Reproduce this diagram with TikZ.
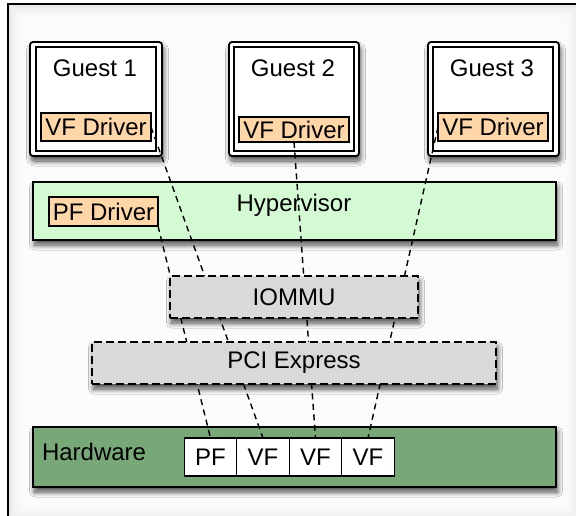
\documentclass[tikz,border=0pt]{standalone}
\usepackage{fontspec}
\setmainfont{Liberation Sans}
\usetikzlibrary{shadows.blur}

\definecolor{driverfill}{RGB}{255,214,168}
\definecolor{hvfill}{RGB}{212,250,212}
\definecolor{busfill}{RGB}{217,217,217}
\definecolor{hwfill}{RGB}{120,168,120}

\tikzset{
  every node/.style={inner sep=0pt, outer sep=0pt, font=\fontsize{24}{28}\selectfont},
  softshadow/.style={blur shadow={shadow xshift=1.5pt, shadow yshift=-5pt,
      shadow blur radius=5pt, shadow blur steps=12, shadow opacity=70}},
  guestouter/.style={draw, line width=1.8pt, fill=white, rounded corners=3pt,
      minimum width=132pt, minimum height=114pt, softshadow},
  guestinner/.style={draw, line width=1.3pt, minimum width=120pt, minimum height=104pt},
  driver/.style={draw, line width=1.3pt, fill=driverfill, minimum width=110pt},
  layer/.style={draw, line width=1.5pt, minimum width=523pt, softshadow},
  busbox/.style={draw, line width=1.3pt, fill=busfill, dash pattern=on 8pt off 4pt,
      minimum height=42pt, softshadow},
  fncell/.style={draw, line width=1.4pt, fill=white, minimum width=52.5pt, minimum height=38pt},
  dashlink/.style={line width=1.4pt, dash pattern=on 6pt off 4.5pt}
}

\begin{document}
\begin{tikzpicture}[x=1pt, y=-1pt]
\useasboundingbox (0,0) rectangle (576,515);
\clip (0,0) rectangle (576,515);

% outer frame with a soft inner shading
\fill[gray!20] (8,4) rectangle (580,520);
\foreach \k in {1,...,14}
  \fill[white, opacity=0.2] (8+1.5*\k, 4+1.5*\k) rectangle (580-1.5*\k, 520-1.5*\k);
\draw[line width=1.4pt] (8,520) -- (8,4) -- (580,4);

% guests
\node[guestouter] (g1) at (96,99) {};
\node[guestinner] (g1in) at (96,99) {};
\node (g1label) at (95,68) {Guest 1};
\node[driver, minimum height=28pt] (vf1) at (96,127) {VF Driver};

\node[guestouter, minimum width=130pt] (g2) at (294,99) {};
\node[guestinner] (g2in) at (294,99) {};
\node (g2label) at (293,68) {Guest 2};
\node[driver, minimum height=25pt] (vf2) at (294,129.5) {VF Driver};

\node[guestouter, minimum width=131pt] (g3) at (493.5,99) {};
\node[guestinner] (g3in) at (493,99) {};
\node (g3label) at (492,68) {Guest 3};
\node[driver, minimum height=28pt] (vf3) at (493,127) {VF Driver};

% hypervisor
\node[layer, fill=hvfill, minimum height=58pt] (hv) at (294.5,211) {};
\node (hvlabel) at (294,205) {Hypervisor};
\node[driver, minimum width=109pt, minimum height=29pt] (pfdrv) at (103.5,211.5) {PF Driver};

% hardware with its functions
\node[layer, fill=hwfill, minimum height=60pt] (hw) at (294.5,457) {};
\node[anchor=west] (hwlabel) at (42,452) {Hardware};
\node[fncell] (c1) at (210.5,457) {PF};
\node[fncell] (c2) at (263,457) {VF};
\node[fncell] (c3) at (315.5,457) {VF};
\node[fncell] (c4) at (368,457) {VF};

% driver-to-function paths
\draw[dashlink] (pfdrv.south east) -- (c1.north);
\draw[dashlink] (vf1.east) -- (c2.north);
\draw[dashlink] (vf2.south) -- (c3.north);
\draw[dashlink] (vf3.west) -- (c4.north);

% IOMMU and PCI Express sit over the paths
\node[busbox, minimum width=248pt] (iommu) at (294,297) {IOMMU};
\node[busbox, minimum width=404pt] (pci) at (294,363) {PCI Express};
\end{tikzpicture}
\end{document}
